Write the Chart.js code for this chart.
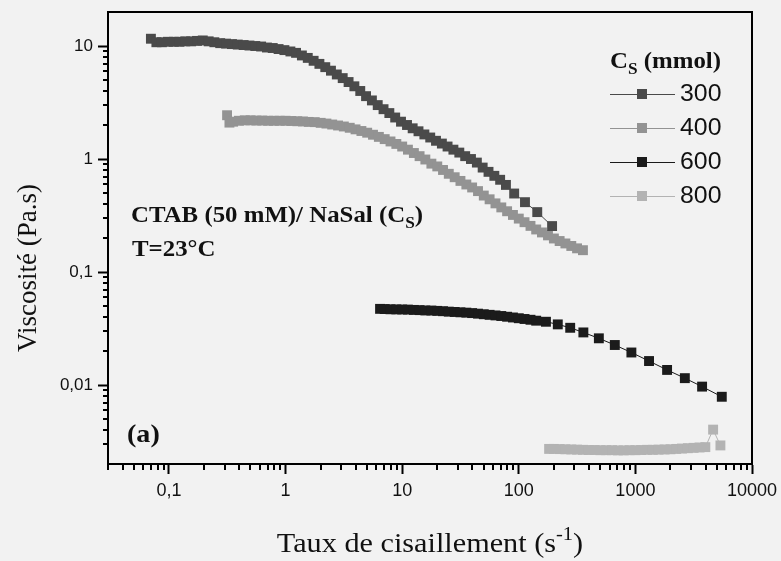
<!DOCTYPE html>
<html lang="fr">
<head>
<meta charset="UTF-8">
<title>Viscosité - CTAB / NaSal</title>
<script src="https://cdn.jsdelivr.net/npm/chart.js@4.4.1/dist/chart.umd.min.js"></script>
<style>
  * { margin: 0; padding: 0; box-sizing: border-box; }
  body { background: #f2f2f2; width: 781px; height: 561px; overflow: hidden; }
  canvas { display: block; }
</style>
</head>
<body>
<canvas id="chart" width="781" height="561"></canvas>
<script>
// Courbes : taux de cisaillement (s-1) / viscosité (Pa.s)
const shear300 = [0.07, 0.078, 0.087, 0.098, 0.11, 0.123, 0.138, 0.155, 0.174, 0.195, 0.219, 0.245, 0.275, 0.309, 0.347, 0.389, 0.437, 0.49, 0.55, 0.617, 0.692, 0.776, 0.871, 0.977, 1.1, 1.23, 1.38, 1.55, 1.74, 1.95, 2.19, 2.45, 2.75, 3.09, 3.47, 3.89, 4.37, 4.9, 5.5, 6.17, 6.92, 7.76, 8.71, 9.77, 11, 12.3, 13.8, 15.5, 17.4, 19.5, 21.9, 24.5, 27.5, 30.9, 34.7, 38.9, 43.7, 49, 55, 61.7, 69.2, 77.6, 91.3, 113, 144, 193];
const visc300 = [11.6, 10.8, 10.8, 10.9, 10.9, 10.9, 11.0, 11.0, 11.1, 11.2, 11.0, 10.8, 10.6, 10.5, 10.4, 10.3, 10.2, 10.1, 10.0, 9.9, 9.7, 9.6, 9.4, 9.2, 8.95, 8.7, 8.25, 7.85, 7.4, 6.95, 6.5, 6.05, 5.6, 5.2, 4.8, 4.4, 4.0, 3.6, 3.3, 3.0, 2.76, 2.55, 2.33, 2.14, 2.0, 1.87, 1.76, 1.65, 1.55, 1.45, 1.37, 1.29, 1.21, 1.14, 1.06, 1.0, 0.93, 0.84, 0.77, 0.71, 0.655, 0.59, 0.495, 0.415, 0.339, 0.255];

const shear400 = [0.315, 0.33, 0.355, 0.398, 0.447, 0.501, 0.562, 0.631, 0.708, 0.794, 0.891, 1.0, 1.12, 1.26, 1.41, 1.58, 1.78, 2.0, 2.24, 2.51, 2.82, 3.16, 3.55, 3.98, 4.47, 5.01, 5.62, 6.31, 7.08, 7.94, 8.91, 10, 11.2, 12.6, 14.1, 15.8, 17.8, 20, 22.4, 25.1, 28.2, 31.6, 35.5, 39.8, 44.7, 50.1, 56.2, 63.1, 70.8, 79.4, 89.1, 100, 112, 126, 141, 158, 178, 200, 224, 251, 282, 316, 355];
const visc400 = [2.44, 2.1, 2.14, 2.18, 2.2, 2.2, 2.19, 2.19, 2.18, 2.18, 2.18, 2.18, 2.17, 2.16, 2.15, 2.13, 2.12, 2.09, 2.06, 2.02, 1.98, 1.94, 1.89, 1.83, 1.77, 1.71, 1.64, 1.57, 1.5, 1.43, 1.36, 1.29, 1.21, 1.13, 1.06, 0.99, 0.91, 0.86, 0.8, 0.74, 0.69, 0.64, 0.595, 0.56, 0.52, 0.475, 0.44, 0.405, 0.373, 0.345, 0.32, 0.297, 0.276, 0.256, 0.238, 0.224, 0.211, 0.198, 0.188, 0.179, 0.17, 0.162, 0.156];

const shear600 = [6.46, 7.08, 7.94, 8.91, 10, 11.2, 12.6, 14.1, 15.8, 17.8, 20, 22.4, 25.1, 28.2, 31.6, 35.5, 39.8, 44.7, 50.1, 56.2, 63.1, 70.8, 79.4, 89.1, 100, 112, 126, 141, 171, 216, 276, 358, 486, 666, 924, 1309, 1870, 2655, 3733, 5507];
const visc600 = [0.0472, 0.047, 0.0468, 0.0467, 0.0466, 0.0465, 0.0462, 0.046, 0.0457, 0.0456, 0.0453, 0.045, 0.0446, 0.0443, 0.044, 0.0437, 0.0433, 0.0428, 0.0423, 0.0418, 0.0413, 0.0408, 0.0402, 0.0396, 0.039, 0.0384, 0.0378, 0.0371, 0.0363, 0.0344, 0.0321, 0.0292, 0.0259, 0.0226, 0.0194, 0.0163, 0.0136, 0.0115, 0.00968, 0.00787];

const shear800 = [182, 200, 224, 251, 282, 316, 355, 398, 447, 501, 562, 631, 708, 794, 891, 1000, 1120, 1260, 1410, 1580, 1780, 2000, 2240, 2510, 2820, 3160, 3550, 3980, 4640, 5360];
const visc800 = [0.00272, 0.00272, 0.00271, 0.0027, 0.00269, 0.00268, 0.00267, 0.00266, 0.00266, 0.00265, 0.00265, 0.00265, 0.00264, 0.00264, 0.00265, 0.00265, 0.00266, 0.00267, 0.00267, 0.00268, 0.00269, 0.0027, 0.00272, 0.00274, 0.00276, 0.00278, 0.0028, 0.00282, 0.00403, 0.00292];

const seriesLabels = ['300', '400', '600', '800'];
const seriesColors = ['#4a4a4a', '#939393', '#1b1b1b', '#b3b3b3'];

const xMajorTicks = [0.1, 1, 10, 100, 1000, 10000];
const xTickLabels = ['0,1', '1', '10', '100', '1000', '10000'];
const yMajorTicks = [0.01, 0.1, 1, 10];
const yTickLabels = ['0,01', '0,1', '1', '10'];
const minorMantissas = [2, 3, 4, 5, 6, 7, 8, 9];

const X_MIN = 0.03, X_MAX = 10000, Y_MIN = 0.002, Y_MAX = 20;

const xMinorTicks = [0.01, 0.1, 1, 10, 100, 1000]
    .flatMap(d => minorMantissas.map(m => m * d))
    .filter(v => v >= X_MIN * 0.999 && v < X_MAX);
const yMinorTicks = [0.001, 0.01, 0.1, 1]
    .flatMap(d => minorMantissas.map(m => m * d))
    .filter(v => v > Y_MIN * 1.001 && v < Y_MAX);

const SERIF = "'Liberation Serif', 'Times New Roman', serif";
const SANS = "'Liberation Sans', Arial, sans-serif";
const STRETCH = 1.08;

// texte avec indices / exposants
function drawRich(ctx, x, y, runs, o) {
    const size = o.size, weight = o.weight || 'normal';
    const fontOf = r => weight + ' ' + Math.round(r.sub || r.sup ? size * 0.68 : size) + 'px ' + o.family;
    ctx.save();
    ctx.translate(x, y);
    ctx.scale(o.stretch || STRETCH, 1);
    ctx.fillStyle = o.color || '#111';
    ctx.textBaseline = o.baseline || 'alphabetic';
    let total = 0;
    runs.forEach(r => { ctx.font = fontOf(r); total += ctx.measureText(r.t).width; });
    let cx = o.align === 'center' ? -total / 2 : 0;
    runs.forEach(r => {
        ctx.font = fontOf(r);
        const dy = r.sub ? size * 0.28 : (r.sup ? -size * 0.42 : 0);
        ctx.fillText(r.t, cx, dy);
        cx += ctx.measureText(r.t).width;
    });
    ctx.restore();
}

const bgPlugin = {
    id: 'bg',
    beforeDraw(chart) {
        const ctx = chart.ctx;
        ctx.save();
        ctx.fillStyle = '#f2f2f2';
        ctx.fillRect(0, 0, chart.width, chart.height);
        ctx.restore();
    }
};

const framePlugin = {
    id: 'frame',
    afterDraw(chart) {
        const { ctx, chartArea: a, scales } = chart;
        ctx.save();
        ctx.strokeStyle = '#000';
        ctx.lineWidth = 2;
        ctx.beginPath();
        ctx.moveTo(a.left, a.top);
        ctx.lineTo(a.right, a.top);
        ctx.lineTo(a.right, a.bottom);
        ctx.stroke();

        // graduations secondaires
        ctx.beginPath();
        xMinorTicks.forEach(v => {
            const px = Math.round(scales.x.getPixelForValue(v));
            ctx.moveTo(px, a.bottom);
            ctx.lineTo(px, a.bottom + 6);
        });
        yMinorTicks.forEach(v => {
            const py = Math.round(scales.y.getPixelForValue(v));
            ctx.moveTo(a.left, py);
            ctx.lineTo(a.left - 5, py);
        });
        ctx.stroke();
        ctx.restore();
    }
};

const textPlugin = {
    id: 'texts',
    afterDraw(chart) {
        const ctx = chart.ctx;

        // titres des axes
        drawRich(ctx, 430, 552, [{ t: 'Taux de cisaillement (s' }, { t: '-1', sup: true }, { t: ')' }],
            { size: 28, family: SERIF, align: 'center' });
        ctx.save();
        ctx.translate(36, 268);
        ctx.rotate(-Math.PI / 2);
        ctx.font = '27px ' + SERIF;
        ctx.fillStyle = '#111';
        ctx.textAlign = 'center';
        ctx.fillText('Viscosité (Pa.s)', 0, 0);
        ctx.restore();

        // annotations
        drawRich(ctx, 131, 222, [{ t: 'CTAB (50 mM)/ NaSal (C' }, { t: 'S', sub: true }, { t: ')' }],
            { size: 23, family: SERIF, weight: 'bold' });
        drawRich(ctx, 132, 256, [{ t: 'T=23°C' }], { size: 23, family: SERIF, weight: 'bold' });
        drawRich(ctx, 127, 442, [{ t: '(a)' }], { size: 26, family: SERIF, weight: 'bold' });

        // légende
        drawRich(ctx, 610, 68, [{ t: 'C' }, { t: 'S', sub: true }, { t: ' (mmol)' }],
            { size: 23, family: SERIF, weight: 'bold' });
        chart.data.datasets.forEach((ds, i) => {
            const y = 94 + i * 34;
            ctx.save();
            ctx.strokeStyle = ds.borderColor;
            ctx.lineWidth = 1;
            ctx.beginPath();
            ctx.moveTo(610, y + 0.5);
            ctx.lineTo(675, y + 0.5);
            ctx.stroke();
            ctx.fillStyle = ds.pointBackgroundColor;
            ctx.fillRect(637, y - 5, 10, 10);
            ctx.restore();
            drawRich(ctx, 680, y + 1, [{ t: ds.label }], { size: 23, family: SANS, baseline: 'middle' });
        });
    }
};

function makeSet(i, xs, ys) {
    return {
        label: seriesLabels[i],
        data: xs.map((x, k) => ({ x: x, y: ys[k] })),
        borderColor: seriesColors[i],
        backgroundColor: seriesColors[i],
        pointBackgroundColor: seriesColors[i],
        pointStyle: 'rect',
        pointRadius: 7,
        pointBorderWidth: 0,
        borderWidth: 1,
        showLine: true,
        fill: false,
        tension: 0
    };
}

const axisCommon = {
    type: 'logarithmic',
    grid: { display: true, drawOnChartArea: false, drawTicks: true, tickLength: 10, tickWidth: 2, tickColor: '#000' },
    border: { display: true, color: '#000', width: 2 }
};

new Chart(document.getElementById('chart'), {
    type: 'line',
    data: {
        datasets: [
            makeSet(0, shear300, visc300),
            makeSet(1, shear400, visc400),
            makeSet(2, shear600, visc600),
            makeSet(3, shear800, visc800)
        ]
    },
    options: {
        responsive: false,
        devicePixelRatio: 1,
        animation: false,
        events: [],
        layout: { padding: { left: 0, top: 12, right: 29, bottom: 0 } },
        plugins: { legend: { display: false }, tooltip: { enabled: false } },
        scales: {
            x: Object.assign({}, axisCommon, {
                position: 'bottom',
                min: X_MIN,
                max: X_MAX,
                ticks: {
                    autoSkip: false, maxRotation: 0, padding: 6, color: '#111',
                    font: { family: SANS, size: 18 },
                    callback: (v, i) => xTickLabels[i]
                },
                afterBuildTicks: s => { s.ticks = xMajorTicks.map(v => ({ value: v })); },
                afterFit: s => { s.height = 97; s.paddingLeft = 0; s.paddingRight = 0; }
            }),
            y: Object.assign({}, axisCommon, {
                position: 'left',
                min: Y_MIN,
                max: Y_MAX,
                ticks: {
                    autoSkip: false, padding: 5, color: '#111',
                    font: { family: SANS, size: 17 },
                    callback: (v, i) => yTickLabels[i]
                },
                afterBuildTicks: s => { s.ticks = yMajorTicks.map(v => ({ value: v })); },
                afterFit: s => { s.width = 108; s.paddingTop = 0; s.paddingBottom = 0; }
            })
        }
    },
    plugins: [bgPlugin, framePlugin, textPlugin]
});
</script>
</body>
</html>
